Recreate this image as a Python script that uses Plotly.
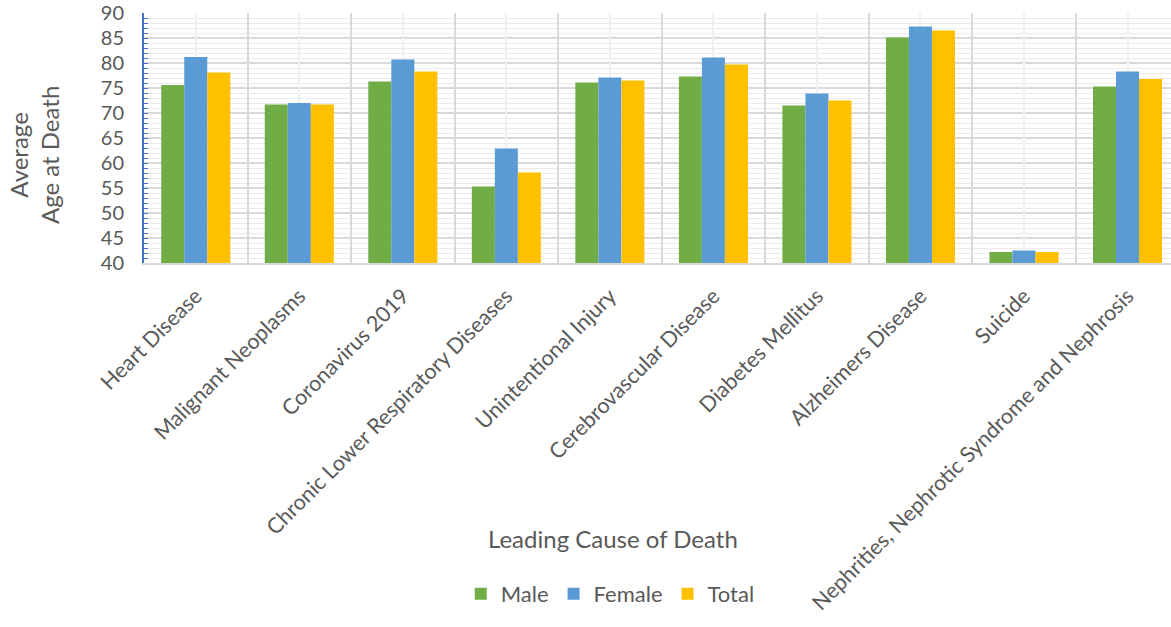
import plotly.graph_objects as go

categories = [
    "Heart Disease", "Malignant Neoplasms", "Coronavirus 2019",
    "Chronic Lower Respiratory Diseases", "Unintentional Injury",
    "Cerebrovascular Disease", "Diabetes Mellitus", "Alzheimers Disease",
    "Suicide", "Nephrities, Nephrotic Syndrome and Nephrosis",
]
male = [75.6, 71.7, 76.3, 55.3, 76.1, 77.3, 71.5, 85.1, 42.2, 75.3]
female = [81.2, 72.0, 80.7, 62.9, 77.1, 81.1, 73.9, 87.3, 42.5, 78.3]
total = [78.1, 71.7, 78.3, 58.1, 76.5, 79.7, 72.5, 86.5, 42.2, 76.8]

FONT = "Lato"
GRAY = "#595959"

fig = go.Figure()
fig.add_trace(go.Bar(name="Male", x=categories, y=male, marker=dict(color="#70AD47", line=dict(width=0))))
fig.add_trace(go.Bar(name="Female", x=categories, y=female, marker=dict(color="#5B9BD5", line=dict(width=0))))
fig.add_trace(go.Bar(name="Total", x=categories, y=total, marker=dict(color="#FFC000", line=dict(width=0))))
# helper (invisible) trace for the category-centre gridlines
fig.add_trace(go.Scatter(x=categories, y=[None] * len(categories), xaxis="x2", yaxis="y",
                         mode="markers", showlegend=False, hoverinfo="skip"))

xr = [-0.5, 9.42]
fig.update_layout(
    width=1171, height=627,
    margin=dict(l=144, r=0, t=13, b=364, autoexpand=False),
    paper_bgcolor="white", plot_bgcolor="white",
    font=dict(family=FONT, color=GRAY, size=22),
    barmode="group", bargap=0.333, bargroupgap=0,
    xaxis=dict(
        type="category", categoryorder="array", categoryarray=categories,
        range=xr, tickson="boundaries", showgrid=True, gridcolor="#D9D9D9", gridwidth=2,
        tickangle=-45, ticks="", ticklabelstandoff=10, automargin=False,
        showline=True, linecolor="#D9D9D9", linewidth=2,
        tickfont=dict(family=FONT, size=21.5, color=GRAY),
    ),
    xaxis2=dict(
        type="category", categoryorder="array", categoryarray=categories,
        range=xr, overlaying="x", anchor="y", showgrid=True, gridcolor="#F0F0F0", gridwidth=2,
        showticklabels=False, ticks="", showline=False, automargin=False,
    ),
    yaxis=dict(
        range=[40, 90], dtick=5, tick0=40, showgrid=True, gridcolor="#D9D9D9", gridwidth=2,
        ticks="inside", ticklen=4, tickcolor="#4472C4", tickwidth=1,
        showline=True, linecolor="#4472C4", linewidth=2, automargin=False,
        ticklabelstandoff=14, zeroline=False,
        tickfont=dict(family=FONT, size=20, color=GRAY),
        minor=dict(dtick=1, showgrid=True, gridcolor="#EBEBEB", gridwidth=1,
                   ticks="inside", ticklen=4, tickcolor="#4472C4"),
    ),
    legend=dict(orientation="h", x=0.454, y=-1.324, xanchor="center", yanchor="middle",
                font=dict(family=FONT, size=22, color=GRAY), itemwidth=30,
                bgcolor="rgba(0,0,0,0)"),
    annotations=[
        dict(text="Leading Cause of Death", xref="paper", yref="paper",
             x=0.457, y=-1.1, xanchor="center", yanchor="middle", showarrow=False,
             font=dict(family=FONT, size=24, color=GRAY)),
        dict(text="Average<br>Age at Death", xref="paper", yref="paper",
             x=-0.107, y=0.432, xanchor="center", yanchor="middle", textangle=-90,
             showarrow=False, align="center",
             font=dict(family=FONT, size=24, color=GRAY)),
    ],
)

fig.write_html("out.html")
